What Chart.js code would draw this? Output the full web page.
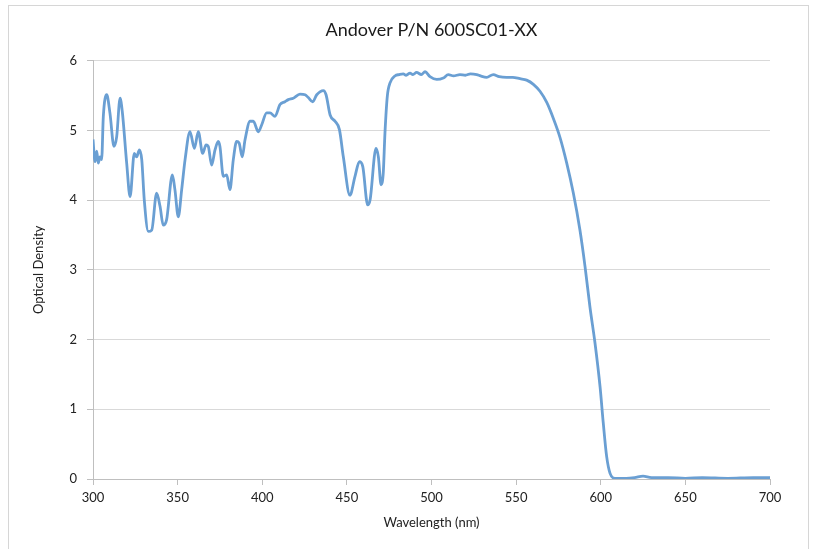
<!DOCTYPE html>
<html>
<head>
<meta charset="utf-8">
<script src="https://cdn.jsdelivr.net/npm/chart.js@4"></script>
<style>
  html, body { margin: 0; padding: 0; background: #ffffff; overflow: hidden; }
  #wrap { position: relative; width: 817px; height: 549px; }
  #frame { position: absolute; left: 8px; top: 5px; width: 801px; height: 560px;
           border: 1px solid #d6d6d6; pointer-events: none; box-sizing: border-box; }
  canvas { position: absolute; left: 0; top: 0; }
</style>
</head>
<body>
<div id="wrap">
  <canvas id="c" width="817" height="549"></canvas>
  <div id="frame"></div>
</div>
<script>
const chartTitle = "Andover P/N 600SC01-XX";
const xAxisTitle = "Wavelength (nm)";
const yAxisTitle = "Optical Density";
const xTicks = [300, 350, 400, 450, 500, 550, 600, 650, 700];
const yTicks = [0, 1, 2, 3, 4, 5, 6];

const wavelength = [
  300, 301.2, 302.2, 303.1, 304.1, 305.1, 306.1, 308.1, 310, 312.4,
  314, 316, 317.3, 319.9, 321.9, 324.4, 325.8, 327.4, 328.8, 330.3,
  332.7, 334.7, 337.6, 339.6, 341.5, 343.5, 346.9, 348.4, 350.4, 352.4,
  354.4, 357.3, 359.9, 362.2, 364.8, 366.8, 368.1, 370.1, 372.1, 374,
  375, 377, 379, 380.9, 382.9, 384.9, 386.3, 388.2, 389.8, 392.8,
  394.7, 397.7, 399.7, 402.6, 404.6, 407.5, 410.5, 413.4, 415.4, 418.3,
  422.3, 425.3, 427.2, 429.8, 432.2, 436.1, 437.7, 440.1, 443, 445.6,
  447.9, 451.8, 454.8, 457.4, 459.4, 462.3, 463.7, 467.2, 468.6, 470.2,
  471.5, 472.5, 473.9, 475.5, 478.4, 481, 483.3, 485, 487.3, 489,
  491.2, 494, 496.2, 499.1, 503.1, 507, 509.9, 513, 516.8, 520,
  523, 526.7, 529, 532.6, 536.5, 540, 544.4, 548, 552.3, 556.2,
  560.2, 564.1, 568.1, 572, 575.9, 579.9, 583.8, 587.7, 590.7, 593.6,
  596.6, 599.6, 601.5, 603.5, 605.5, 608.4, 615, 620, 625, 630,
  640, 650, 660, 675, 690, 700
];
const opticalDensity = [
  4.87, 4.55, 4.70, 4.53, 4.62, 4.58, 5.20, 5.51, 5.25, 4.77,
  4.91, 5.46, 5.27, 4.53, 4.05, 4.67, 4.62, 4.72, 4.58, 4.00,
  3.55, 3.57, 4.10, 3.91, 3.64, 3.72, 4.36, 4.15, 3.76, 4.15,
  4.58, 4.98, 4.74, 4.98, 4.67, 4.79, 4.77, 4.50, 4.72, 4.84,
  4.77, 4.34, 4.36, 4.15, 4.58, 4.84, 4.82, 4.62, 4.86, 5.13,
  5.13, 4.98, 5.08, 5.25, 5.25, 5.20, 5.37, 5.41, 5.44, 5.46,
  5.52, 5.51, 5.47, 5.41, 5.51, 5.57, 5.51, 5.22, 5.13, 5.01,
  4.62, 4.07, 4.34, 4.55, 4.48, 3.93, 4.00, 4.74, 4.62, 4.22,
  4.39, 4.96, 5.49, 5.68, 5.78, 5.80, 5.81, 5.79, 5.82, 5.80,
  5.83, 5.80, 5.84, 5.77, 5.73, 5.75, 5.80, 5.78, 5.80, 5.79,
  5.81, 5.80, 5.78, 5.76, 5.80, 5.77, 5.76, 5.76, 5.74, 5.72,
  5.66, 5.56, 5.40, 5.17, 4.90, 4.53, 4.10, 3.57, 3.05, 2.47,
  1.95, 1.32, 0.80, 0.32, 0.08, 0.01, 0.01, 0.02, 0.04, 0.02,
  0.02, 0.01, 0.02, 0.01, 0.02, 0.02
];

const points = wavelength.map((w, i) => ({ x: w, y: opticalDensity[i] }));
const FONT = "Lato, 'Open Sans', sans-serif";

// center the chart title over the plot area, as in the reference
const centerTitle = {
  id: 'centerTitle',
  afterLayout(chart) {
    const t = chart.titleBlock;
    if (!t) return;
    t.left = chart.chartArea.left;
    t.right = chart.chartArea.right;
    t.width = t.right - t.left;
  }
};

new Chart(document.getElementById('c'), {
  type: 'line',
  data: {
    datasets: [{
      data: points,
      borderColor: '#6a9fd3',
      borderWidth: 2.8,
      pointRadius: 0,
      fill: false,
      cubicInterpolationMode: 'monotone'
    }]
  },
  options: {
    responsive: false,
    animation: false,
    devicePixelRatio: 1,
    layout: { padding: { left: 0, right: 47, top: 0, bottom: 0 } },
    plugins: {
      legend: { display: false },
      tooltip: { enabled: false },
      title: {
        display: true,
        text: chartTitle,
        color: '#1a1a1a',
        font: { family: FONT, size: 18, weight: 'normal' },
        padding: { top: 19, bottom: 20 }
      }
    },
    scales: {
      x: {
        type: 'linear',
        min: 300, max: 700,
        afterBuildTicks: (s) => { s.ticks = xTicks.map(v => ({ value: v })); },
        afterFit: (s) => { s.height = 70; },
        grid: { display: true, drawOnChartArea: false, drawTicks: true, tickLength: 6, color: '#bfbfbf' },
        border: { display: true, color: '#bfbfbf', width: 1 },
        ticks: { color: '#222', font: { family: FONT, size: 13 }, padding: 5, maxRotation: 0 },
        title: { display: true, text: xAxisTitle, color: '#222', font: { family: FONT, size: 13 }, padding: { top: 0, bottom: 18 } }
      },
      y: {
        type: 'linear',
        min: 0, max: 6,
        afterBuildTicks: (s) => { s.ticks = yTicks.map(v => ({ value: v })); },
        afterFit: (s) => { s.width = 93; },
        grid: { display: true, color: '#d9d9d9', tickColor: '#bfbfbf', tickLength: 6, lineWidth: 1 },
        border: { display: true, color: '#bfbfbf', width: 1 },
        ticks: { color: '#222', font: { family: FONT, size: 13 }, padding: 10 },
        title: { display: true, text: yAxisTitle, color: '#222', font: { family: FONT, size: 13 }, padding: { top: 31, bottom: 0 } }
      }
    }
  },
  plugins: [centerTitle]
});
</script>
</body>
</html>
